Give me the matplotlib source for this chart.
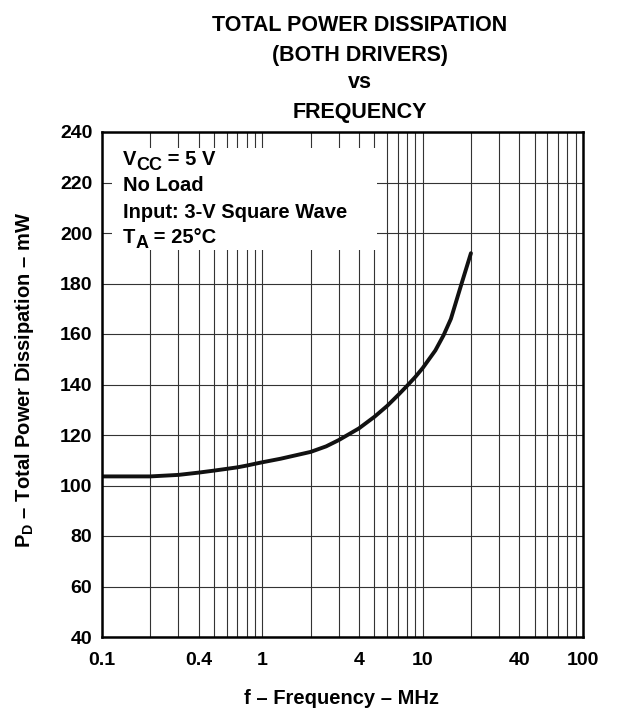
import numpy as np
from matplotlib import pyplot as plt
from matplotlib.patches import Rectangle
from matplotlib.ticker import FixedLocator, NullLocator

params = {"font.family": "Liberation Sans", "font.weight": "bold", "font.size": 14,
          "mathtext.fontset": "custom", "mathtext.rm": "Liberation Sans:bold",
          "mathtext.bf": "Liberation Sans:bold", "mathtext.it": "Liberation Sans:bold"}
plt.rcParams.update(params)

# curve
freq = [0.1, 0.2, 0.3, 0.4, 0.5, 0.6, 0.7, 0.8, 0.9, 1, 1.3, 1.5, 2, 2.5, 3, 4, 5, 6, 7,
        8, 9, 10, 12, 13.5, 15, 17.3, 20]
power = [103.6, 103.6, 104.2, 105.1, 105.9, 106.6, 107.2, 107.9, 108.6, 109.2, 110.6,
         111.5, 113.3, 115.5, 118.0, 122.6, 127.2, 131.5, 135.7, 139.5, 143.0, 146.5,
         153.5, 159.5, 166.0, 179.0, 192]

xticks = [0.1, 0.4, 1, 4, 10, 40, 100]
xticklabels = ['0.1', '0.4', '1', '4', '10', '40', '100']
yticks = [40, 60, 80, 100, 120, 140, 160, 180, 200, 220, 240]

title_lines = ['TOTAL POWER DISSIPATION', '(BOTH DRIVERS)', 'vs', 'FREQUENCY']
# (main, subscript, rest)
conditions = [('V', 'CC', ' = 5 V'), ('No Load', '', ''),
              ('Input: 3-V Square Wave', '', ''), ('T', 'A', ' = 25°C')]

W, H = 629, 713
fig = plt.figure(figsize=(W/100, H/100), dpi=100)
ax = fig.add_axes([102/W, 1-637/H, (583-102)/W, (637-132)/H])

ax.set_xscale('log')
ax.set_xlim(0.1, 100)
ax.set_ylim(40, 240)

# graph paper grid: every 1..9 of each decade
minor = [m*10.0**d for d in (-1, 0, 1) for m in range(1, 10)] + [100]
for xv in minor:
    ax.axvline(xv, color='#333333', lw=0.8, zorder=1)
for yv in yticks:
    ax.axhline(yv, color='#333333', lw=0.8, zorder=1)

ax.xaxis.set_major_locator(FixedLocator(xticks))
ax.xaxis.set_minor_locator(NullLocator())
ax.set_xticklabels(xticklabels)
ax.set_yticks(yticks)
ax.tick_params(length=0, labelsize=14)
ax.tick_params(axis='x', pad=10.5)
ax.tick_params(axis='y', pad=7)

for s in ax.spines.values():
    s.set_linewidth(1.8)
    s.set_zorder(5)

ax.plot(freq, power, color='#111111', lw=2.8, solid_capstyle='round', zorder=3)

# white box with test conditions
ax.add_patch(Rectangle((0.116, 193.3), 5.2-0.116, 233.7-193.3, facecolor='white',
                       edgecolor='none', zorder=2))
ys = [165, 191, 218, 243]
for (main, sub, rest), yp in zip(conditions, ys):
    t = fig.text(123/W, 1-yp/H, main, ha='left', va='baseline', fontsize=14.5)
    if sub:
        s = ax.annotate(sub, xy=(1, 0), xycoords=t, xytext=(0, -3.6),
                        textcoords='offset points', ha='left', va='bottom', fontsize=13)
        ax.annotate(rest, xy=(1, 0), xycoords=s, xytext=(0, 3.6),
                    textcoords='offset points', ha='left', va='bottom', fontsize=14.5)

fig.text(342/W, 1-704/H, 'f – Frequency – MHz', ha='center', va='baseline', fontsize=14.5)
fig.text(25/W, 1-380/H, r'$\mathbf{P_D}$ – Total Power Dissipation – mW', rotation=90,
         ha='center', va='center', fontsize=14.5)

for txt, yp in zip(title_lines, [31, 61, 88, 118]):
    fig.text(360/W, 1-yp/H, txt, ha='center', va='baseline', fontsize=15.5)

plt.savefig('out.png', dpi=100)
